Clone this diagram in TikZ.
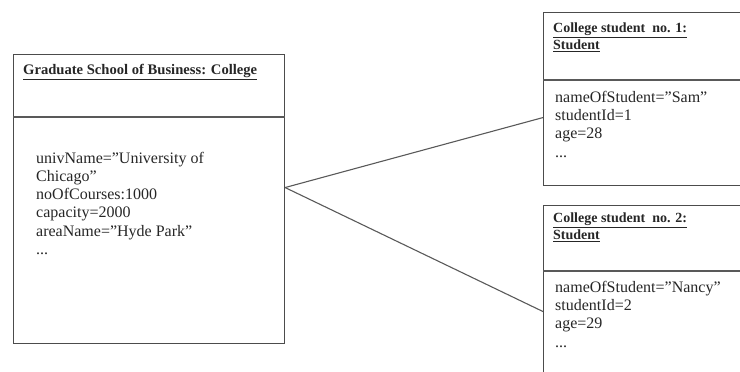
\documentclass[tikz,border=0pt]{standalone}
\usepackage{fontspec}
\setmainfont{Liberation Serif}
\begin{document}
\begin{tikzpicture}[x=1pt,y=-1pt,
  umlbox/.style={draw=black!70, line width=1.1pt, inner sep=0pt, anchor=north west},
  conn/.style={draw=black!65, line width=1.1pt},
  ttl/.style={font=\bfseries\fontsize{14}{17}\selectfont, align=left, anchor=base west, inner sep=0pt, text=black!85},
  attr/.style={font=\fontsize{16}{18.3}\selectfont, align=left, anchor=base west, inner sep=0pt, text=black!85}]
\useasboundingbox (0,0) rectangle (740,372);
\clip (0,0) rectangle (740,372);
% boxes
\node[umlbox, minimum width=271pt, minimum height=289pt] (college) at (13,54) {};
\node[umlbox, minimum width=217pt, minimum height=173pt] (s1) at (543,12) {};
\node[umlbox, minimum width=217pt, minimum height=200pt] (s2) at (543,205) {};
% dividers
\draw[conn] (college.west |- 0,117) -- (college.east |- 0,117);
\draw[conn] (s1.west |- 0,80) -- (s1.east |- 0,80);
\draw[conn] (s2.west |- 0,271) -- (s2.east |- 0,271);
% texts (base anchor = baseline of the last line)
\node[ttl, font=\bfseries\fontsize{14.6}{17}\selectfont] (ct) at (23,74.5) {\underline{Graduate School of Business: College}};
\node[attr] (ca) at (36,254.5) {univName="University of\\Chicago"\\noOfCourses:1000\\capacity=2000\\areaName="Hyde Park"\\...};
\node[ttl] (s1t) at (553,49.5) {\underline{College student\ \ no. 1:}\\\underline{Student}};
\node[attr] (s1a) at (555,157) {nameOfStudent="Sam"\\studentId=1\\age=28\\...};
\node[ttl] (s2t) at (553,239.5) {\underline{College student\ \ no. 2:}\\\underline{Student}};
\node[attr] (s2a) at (555,347) {nameOfStudent="Nancy"\\studentId=2\\age=29\\...};
% connectors
\coordinate (cj) at ([yshift=11.5pt]college.east);
\coordinate (e1) at ([yshift=-18.5pt]s1.west);
\coordinate (e2) at ([yshift=-6pt]s2.west);
\draw[conn] (cj) -- (e1);
\draw[conn] (cj) -- (e2);
\end{tikzpicture}
\end{document}
